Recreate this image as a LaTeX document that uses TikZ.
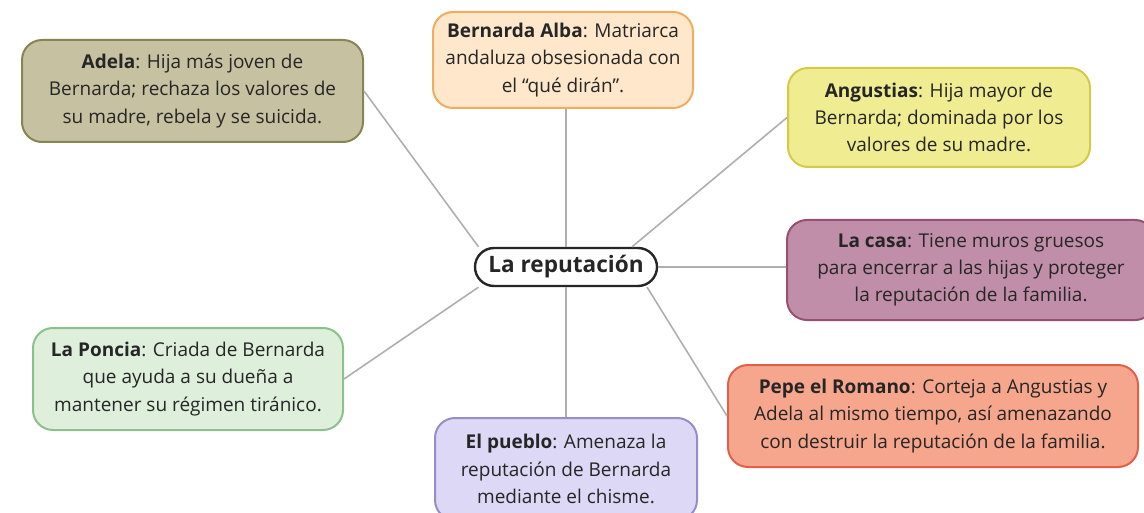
\documentclass[tikz,border=0pt]{standalone}
\usepackage{fontspec}
\setmainfont{Open Sans}

\definecolor{schrift}{RGB}{38,38,38}
\definecolor{linie}{RGB}{175,175,175}
\definecolor{adelaFill}{RGB}{198,193,160}
\definecolor{adelaRand}{RGB}{135,132,85}
\definecolor{bernardaFill}{RGB}{254,231,202}
\definecolor{bernardaRand}{RGB}{240,172,95}
\definecolor{angustiasFill}{RGB}{240,236,145}
\definecolor{angustiasRand}{RGB}{212,202,70}
\definecolor{casaFill}{RGB}{192,142,168}
\definecolor{casaRand}{RGB}{150,80,112}
\definecolor{ponciaFill}{RGB}{222,240,220}
\definecolor{ponciaRand}{RGB}{140,192,140}
\definecolor{puebloFill}{RGB}{220,216,245}
\definecolor{puebloRand}{RGB}{150,142,200}
\definecolor{pepeFill}{RGB}{246,166,140}
\definecolor{pepeRand}{RGB}{226,96,70}

\begin{document}
\begin{tikzpicture}[
x=0.5pt,
y=-0.5pt,
figur/.style={draw, line width=1pt, rounded corners=10pt, align=center,
	inner sep=2pt, text=schrift, minimum height=51pt,
	font=\fontsize{9.5}{13.6}\selectfont},
verbindung/.style={draw=linie, line width=0.8pt},
]

	\useasboundingbox (0,0) rectangle (1144,513);
	\clip (0,0) rectangle (1144,513);

	%%%%%%%%%%%%%%%%%%%%%%%%%%%%
	%Mitte
	%%%%%%%%%%%%%%%%%%%%%%%%%%%%

	\node [draw=black!85, line width=1.2pt, rounded corners=9.5pt, fill=white,
		minimum width=91pt, minimum height=19pt, inner sep=1pt, text=schrift,
		font=\fontsize{11.3}{12}\selectfont\bfseries] (rep) at (566,267) {La reputación};

	%%%%%%%%%%%%%%%%%%%%%%%%%%%%
	%Figuren
	%%%%%%%%%%%%%%%%%%%%%%%%%%%%

	\node [figur, fill=adelaFill, draw=adelaRand, minimum width=170.5pt] (adela) at (192.5,91)
		{\textbf{Adela}: Hija más joven de\\Bernarda; rechaza los valores de\\su madre, rebela y se suicida.};
	\node [figur, fill=bernardaFill, draw=bernardaRand, minimum width=130pt, minimum height=48pt] (bernarda) at (563,60)
		{\textbf{Bernarda Alba}: Matriarca\\andaluza obsesionada con\\el “qué dirán”.};
	\node [figur, fill=angustiasFill, draw=angustiasRand, minimum width=151pt, minimum height=49.5pt] (angustias) at (939,117.5)
		{\textbf{Angustias}: Hija mayor de\\Bernarda; dominada por los\\valores de su madre.};
	\node [figur, fill=casaFill, draw=casaRand, minimum width=184pt, minimum height=50pt] (casa) at (971,270)
		{\textbf{La casa}: Tiene muros gruesos\\para encerrar a las hijas y proteger\\la reputación de la familia.};
	\node [figur, fill=ponciaFill, draw=ponciaRand, minimum width=155pt] (poncia) at (188,379)
		{\textbf{La Poncia}: Criada de Bernarda\\que ayuda a su dueña a\\mantener su régimen tiránico.};
	\node [figur, fill=puebloFill, draw=puebloRand, minimum width=131pt] (pueblo) at (566,469)
		{\textbf{El pueblo}: Amenaza la\\reputación de Bernarda\\mediante el chisme.};
	\node [figur, fill=pepeFill, draw=pepeRand, minimum width=205pt] (pepe) at (933,416)
		{\textbf{Pepe el Romano}: Corteja a Angustias y\\Adela al mismo tiempo, así amenazando\\con destruir la reputación de la familia.};

	%%%%%%%%%%%%%%%%%%%%%%%%%%%%
	%Verbindungen
	%%%%%%%%%%%%%%%%%%%%%%%%%%%%

	\draw [verbindung] (adela.east) -- (rep.167);
	\draw [verbindung] (bernarda.south -| rep.north) -- (rep.north);
	\draw [verbindung] (angustias.west) -- (rep.17);
	\draw [verbindung] (rep.east) -- (rep.east -| casa.west);
	\draw [verbindung] (poncia.east) -- (rep.193);
	\draw [verbindung] (rep.south) -- (rep.south |- pueblo.north);
	\draw [verbindung] (pepe.west) -- (rep.-14);

\end{tikzpicture}
\end{document}
